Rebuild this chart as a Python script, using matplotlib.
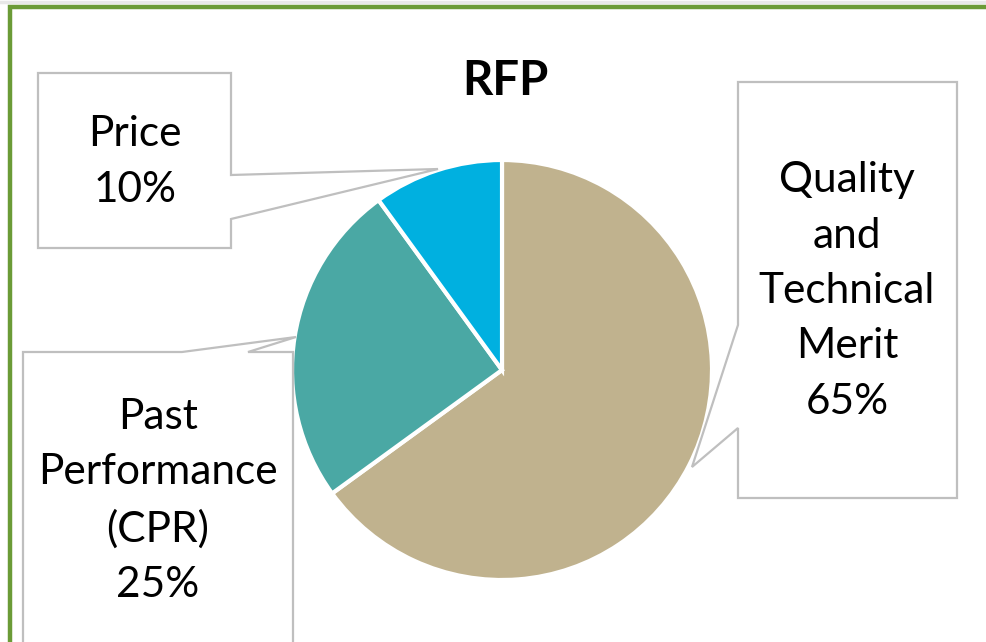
import matplotlib
matplotlib.use("Agg")
import matplotlib.pyplot as plt
from matplotlib.patches import Polygon

title = "RFP"
categories = ["Quality\nand\nTechnical\nMerit", "Past\nPerformance\n(CPR)", "Price"]
values = [65, 25, 10]
colors = ["#C0B28E", "#4AA8A4", "#00B0E0"]

W, H = 987, 642
fig = plt.figure(figsize=(W / 100, H / 100), dpi=100)
ax = fig.add_axes([0, 0, 1, 1])
ax.set_xlim(0, W)
ax.set_ylim(H, 0)
ax.set_aspect("equal")
ax.axis("off")

font = ["Lato", "DejaVu Sans"]

# frame
ax.plot([0, W], [2, 2], color="#E8E8E8", lw=2.5, zorder=1)
ax.plot([10, 10, W + 5], [H + 5, 7, 7], color="#6B9B37", lw=3.2, zorder=1,
        solid_joinstyle="miter")

# pie
cx, cy, r = 502, 370, 210
wedges, _ = ax.pie(values, colors=colors, startangle=-90, counterclock=True,
                   center=(cx, cy), radius=r, frame=True,
                   wedgeprops=dict(edgecolor="white", linewidth=3))
for w in wedges:
    w.set_zorder(3)
ax.set_xlim(0, W)
ax.set_ylim(H, 0)
ax.axis("off")

# callouts
edge = "#BFBFBF"
callouts = [
    [(738, 82), (957, 82), (957, 498), (738, 498), (738, 428), (692, 467), (738, 325)],
    [(23, 352), (182, 352), (296, 337), (248, 352), (293, 352), (293, 700), (23, 700)],
    [(38, 73), (231, 73), (231, 175), (438, 169), (231, 219), (231, 248), (38, 248)],
]
label_pos = [(847, 291), (158, 501), (135, 162)]
for pts, (lx, ly), cat, v in zip(callouts, label_pos, categories, values):
    ax.add_patch(Polygon(pts, closed=True, facecolor="white", edgecolor=edge,
                         lw=1.6, zorder=4, joinstyle="miter"))
    ax.text(lx, ly, f"{cat}\n{v}%", ha="center", va="center", fontsize=30.5,
            family=font, linespacing=1.56, zorder=5, color="black")

ax.text(505, 81, title, ha="center", va="center", fontsize=34, fontweight="bold",
        family=font, zorder=5)

fig.savefig("out.png", dpi=100)
